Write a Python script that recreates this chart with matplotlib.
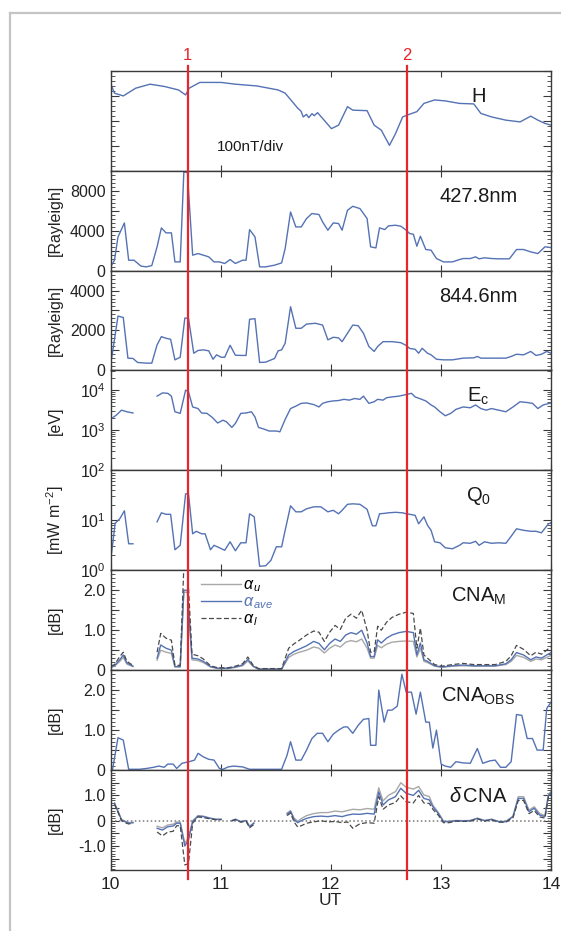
import numpy as np
import matplotlib
matplotlib.use("Agg")
import matplotlib.pyplot as plt
from matplotlib.lines import Line2D
import matplotlib.transforms as mtransforms
from matplotlib.ticker import MultipleLocator, LogLocator, NullFormatter

plt.rcParams['font.family'] = ['Liberation Sans', 'DejaVu Sans']
plt.rcParams['mathtext.fontset'] = 'custom'
plt.rcParams['mathtext.rm'] = 'Liberation Sans'
plt.rcParams['mathtext.it'] = 'Liberation Sans:italic'
plt.rcParams['mathtext.bf'] = 'Liberation Sans:bold'

nan = np.nan

# ---- H (nT, relative) ----
h_ut = [10.0, 10.036, 10.116, 10.229, 10.359, 10.488, 10.617, 10.682, 10.714, 10.811,
        11.005, 11.134, 11.328, 11.522, 11.586, 11.651, 11.70, 11.73, 11.75, 11.78,
        11.80, 11.83, 11.85, 11.88, 11.926, 12.006, 12.071, 12.152, 12.2, 12.33,
        12.394, 12.459, 12.533, 12.588, 12.653, 12.717, 12.782, 12.846, 12.943, 13.04,
        13.17, 13.299, 13.363, 13.46, 13.59, 13.719, 13.816, 13.881, 13.945, 14.0]
h_val = [350, 310, 299, 330, 346, 337, 323, 303, 330, 353,
         353, 346, 339, 323, 310, 276, 250, 238, 215, 225,
         212, 228, 220, 232, 209, 168, 182, 256, 242, 240,
         182, 162, 101, 148, 215, 226, 236, 269, 283, 279,
         269, 267, 229, 215, 202, 195, 218, 202, 189, 182]

# ---- 427.8 nm ----
b_ut = [10.01, 10.036, 10.068, 10.126, 10.165, 10.213, 10.278, 10.326, 10.375, 10.423,
        10.462, 10.504, 10.553, 10.585, 10.633, 10.666, 10.698, 10.746, 10.795, 10.843,
        10.892, 10.94, 10.989, 11.037, 11.086, 11.134, 11.199, 11.231, 11.263, 11.312,
        11.354, 11.409, 11.49, 11.554, 11.586, 11.635, 11.683, 11.732, 11.78, 11.829,
        11.893, 11.926, 11.974, 12.023, 12.071, 12.103, 12.152, 12.2, 12.265, 12.33,
        12.362, 12.41, 12.443, 12.491, 12.523, 12.588, 12.636, 12.685, 12.717, 12.75,
        12.782, 12.814, 12.863, 12.911, 12.96, 13.024, 13.105, 13.17, 13.202, 13.267,
        13.315, 13.347, 13.396, 13.46, 13.525, 13.622, 13.687, 13.751, 13.816, 13.881,
        13.945, 14.0]
b_val = [540, 1040, 3390, 4800, 1040, 1040, 440, 370, 500, 2390,
         4300, 3800, 3800, 870, 870, 9950, 9900, 1550, 1710, 1550,
         1380, 870, 870, 710, 1110, 710, 1040, 1040, 4130, 3390,
         370, 370, 540, 770, 2220, 5910, 4400, 4400, 5240, 5750,
         5650, 4900, 4070, 4800, 4740, 4070, 6080, 6480, 6250, 5240,
         2390, 2280, 4300, 4130, 4500, 4570, 4470, 4070, 3730, 3660,
         2450, 3460, 2120, 2050, 1210, 870, 870, 1110, 1210, 1210,
         1380, 1180, 1280, 1210, 1180, 1180, 2120, 2120, 1880, 1710,
         2390, 2320]

# ---- 844.6 nm ----
r_ut = [10.01, 10.068, 10.116, 10.158, 10.204, 10.246, 10.326, 10.375, 10.423, 10.462,
        10.504, 10.546, 10.585, 10.633, 10.675, 10.708, 10.756, 10.795, 10.843, 10.892,
        10.931, 10.963, 11.005, 11.037, 11.086, 11.134, 11.199, 11.231, 11.263, 11.312,
        11.354, 11.409, 11.49, 11.522, 11.554, 11.586, 11.635, 11.683, 11.732, 11.78,
        11.861, 11.926, 11.974, 12.023, 12.071, 12.103, 12.152, 12.2, 12.249, 12.297,
        12.346, 12.394, 12.426, 12.475, 12.556, 12.636, 12.685, 12.717, 12.766, 12.798,
        12.83, 12.879, 12.911, 12.96, 13.024, 13.105, 13.202, 13.299, 13.331, 13.363,
        13.46, 13.59, 13.638, 13.687, 13.751, 13.816, 13.864, 13.913, 13.961, 14.0]
r_val = [600, 2720, 2650, 615, 600, 400, 365, 365, 1280, 1690,
         1610, 1560, 530, 660, 2620, 2620, 860, 1000, 1030, 980,
         560, 780, 660, 660, 1260, 760, 750, 750, 2560, 2590,
         400, 415, 600, 980, 1030, 1360, 3190, 2110, 2110, 2320,
         2360, 2270, 1530, 1660, 1630, 1440, 1860, 2270, 2240, 1860,
         1200, 950, 1200, 1440, 1440, 1390, 1250, 1100, 1060, 860,
         1110, 860, 780, 560, 530, 530, 615, 630, 700, 615,
         615, 615, 700, 810, 780, 950, 750, 810, 950, 860]

# ---- Ec (eV) ----
ec_ut = [10.01, 10.052, 10.1, 10.149, 10.204, 10.3, 10.423, 10.472, 10.52, 10.553,
         10.585, 10.633, 10.682, 10.708, 10.746, 10.795, 10.827, 10.876, 10.924, 10.973,
         11.021, 11.053, 11.102, 11.134, 11.183, 11.231, 11.28, 11.312, 11.344, 11.392,
         11.441, 11.506, 11.538, 11.586, 11.635, 11.683, 11.732, 11.78, 11.845, 11.893,
         11.926, 11.974, 12.023, 12.071, 12.12, 12.168, 12.217, 12.265, 12.297, 12.346,
         12.394, 12.426, 12.475, 12.507, 12.556, 12.62, 12.685, 12.733, 12.766, 12.807,
         12.863, 12.911, 12.943, 12.992, 13.04, 13.089, 13.137, 13.202, 13.267, 13.315,
         13.363, 13.412, 13.46, 13.525, 13.59, 13.655, 13.719, 13.784, 13.832, 13.881,
         13.929, 14.0]
ec_log = [3.29, 3.375, 3.5, 3.46, 3.43, nan, 3.85, 3.93, 3.92, 3.85,
          3.46, 3.42, 4.0, 3.96, 3.58, 3.54, 3.43, 3.42, 3.32, 3.18,
          3.25, 3.21, 3.07, 3.17, 3.42, 3.43, 3.46, 3.33, 3.07, 3.03,
          2.98, 2.98, 2.96, 3.27, 3.54, 3.6, 3.67, 3.68, 3.64, 3.58,
          3.67, 3.71, 3.73, 3.74, 3.77, 3.75, 3.79, 3.77, 3.85, 3.67,
          3.71, 3.77, 3.75, 3.81, 3.83, 3.85, 3.89, 3.92, 3.83, 3.79,
          3.73, 3.63, 3.58, 3.46, 3.36, 3.42, 3.52, 3.58, 3.56, 3.63,
          3.54, 3.5, 3.54, 3.5, 3.46, 3.58, 3.71, 3.69, 3.67, 3.54,
          3.63, 3.68]

# ---- Q0 (mW m-2) ----
q_ut = [10.01, 10.042, 10.084, 10.126, 10.165, 10.204, 10.3, 10.423, 10.462, 10.504,
        10.546, 10.585, 10.633, 10.682, 10.708, 10.746, 10.778, 10.827, 10.859, 10.908,
        10.94, 10.989, 11.037, 11.086, 11.134, 11.183, 11.231, 11.263, 11.305, 11.354,
        11.409, 11.457, 11.506, 11.554, 11.586, 11.635, 11.683, 11.732, 11.78, 11.845,
        11.91, 11.974, 12.023, 12.071, 12.103, 12.152, 12.2, 12.265, 12.33, 12.378,
        12.41, 12.443, 12.491, 12.523, 12.588, 12.653, 12.685, 12.717, 12.766, 12.798,
        12.846, 12.879, 12.911, 12.943, 12.992, 13.04, 13.105, 13.17, 13.202, 13.267,
        13.315, 13.347, 13.396, 13.46, 13.525, 13.59, 13.638, 13.687, 13.751, 13.816,
        13.864, 13.913, 13.977, 14.0]
q_log = [0.35, 0.94, 1.03, 1.19, 0.53, 0.53, nan, 0.97, 1.15, 1.12,
         1.12, 0.41, 0.5, 1.53, 1.53, 0.73, 0.78, 0.73, 0.73, 0.41,
         0.5, 0.45, 0.4, 0.57, 0.39, 0.55, 0.55, 1.13, 1.07, 0.08,
         0.09, 0.2, 0.47, 0.47, 0.8, 1.29, 1.17, 1.17, 1.23, 1.27,
         1.27, 1.17, 1.2, 1.13, 1.2, 1.32, 1.33, 1.32, 1.22, 0.89,
         0.89, 1.13, 1.14, 1.15, 1.16, 1.15, 1.13, 1.12, 1.1, 0.93,
         1.07, 0.9, 0.8, 0.57, 0.55, 0.45, 0.43, 0.5, 0.55, 0.54,
         0.58, 0.5, 0.57, 0.54, 0.55, 0.54, 0.68, 0.83, 0.8, 0.78,
         0.78, 0.75, 0.93, 0.95]

# ---- CNA_M (dB): alpha_u, alpha_ave, alpha_l ----
m_ut = [10.003, 10.036, 10.084, 10.116, 10.149, 10.204, 10.3, 10.423, 10.456, 10.504,
        10.553, 10.585, 10.633, 10.666, 10.698, 10.74, 10.795, 10.843, 10.908, 10.973,
        11.069, 11.134, 11.199, 11.247, 11.296, 11.344, 11.457, 11.554, 11.618, 11.667,
        11.716, 11.78, 11.845, 11.893, 11.942, 11.99, 12.039, 12.087, 12.136, 12.184,
        12.233, 12.281, 12.33, 12.362, 12.394, 12.426, 12.459, 12.507, 12.556, 12.62,
        12.685, 12.75, 12.782, 12.814, 12.846, 12.879, 12.943, 13.008, 13.105, 13.202,
        13.299, 13.396, 13.493, 13.59, 13.638, 13.687, 13.751, 13.816, 13.864, 13.913,
        13.961, 14.0]
m_ave = [0.08, 0.11, 0.26, 0.38, 0.18, 0.1, nan, 0.3, 0.63, 0.55,
         0.5, 0.09, 0.09, 2.0, 2.0, 0.3, 0.28, 0.22, 0.09, 0.05,
         0.05, 0.08, 0.13, 0.27, 0.1, 0.03, 0.03, 0.03, 0.38, 0.47,
         0.53, 0.61, 0.72, 0.67, 0.51, 0.67, 0.78, 0.72, 0.88, 0.94,
         0.9, 1.0, 0.68, 0.34, 0.34, 0.76, 0.68, 0.8, 0.88, 0.94,
         0.97, 0.94, 0.38, 0.68, 0.26, 0.22, 0.11, 0.08, 0.11, 0.13,
         0.11, 0.11, 0.11, 0.16, 0.26, 0.44, 0.38, 0.26, 0.33, 0.3,
         0.38, 0.44]
m_u = [0.07, 0.1, 0.22, 0.32, 0.15, 0.09, nan, 0.25, 0.5, 0.45,
       0.42, 0.08, 0.08, 1.95, 1.95, 0.26, 0.24, 0.19, 0.08, 0.04,
       0.04, 0.07, 0.11, 0.23, 0.09, 0.02, 0.02, 0.02, 0.32, 0.4,
       0.45, 0.5, 0.58, 0.55, 0.43, 0.55, 0.63, 0.58, 0.7, 0.74,
       0.71, 0.78, 0.55, 0.3, 0.3, 0.62, 0.56, 0.65, 0.7, 0.72,
       0.73, 0.72, 0.33, 0.55, 0.22, 0.19, 0.1, 0.07, 0.1, 0.11,
       0.1, 0.1, 0.1, 0.14, 0.22, 0.37, 0.32, 0.22, 0.28, 0.26,
       0.32, 0.37]
m_l = [0.1, 0.14, 0.34, 0.45, 0.22, 0.12, nan, 0.45, 0.92, 0.8,
       0.75, 0.12, 0.12, 2.6, 2.6, 0.4, 0.36, 0.28, 0.11, 0.06,
       0.06, 0.1, 0.16, 0.33, 0.12, 0.04, 0.04, 0.04, 0.55, 0.66,
       0.75, 0.88, 0.98, 0.95, 0.72, 0.95, 1.12, 1.02, 1.3, 1.4,
       1.3, 1.5, 1.0, 0.45, 0.45, 1.1, 1.0, 1.2, 1.32, 1.4,
       1.45, 1.42, 0.55, 1.05, 0.38, 0.3, 0.14, 0.1, 0.14, 0.17,
       0.14, 0.14, 0.14, 0.22, 0.36, 0.62, 0.52, 0.36, 0.45, 0.4,
       0.5, 0.6]

# ---- CNA_OBS (dB) ----
o_ut = [10.019, 10.068, 10.116, 10.165, 10.262, 10.326, 10.391, 10.439, 10.488, 10.52,
        10.569, 10.601, 10.649, 10.714, 10.763, 10.795, 10.843, 10.892, 10.94, 10.989,
        11.021, 11.069, 11.118, 11.199, 11.263, 11.328, 11.554, 11.603, 11.635, 11.683,
        11.732, 11.78, 11.829, 11.877, 11.926, 11.974, 12.023, 12.071, 12.12, 12.152,
        12.2, 12.249, 12.297, 12.346, 12.362, 12.41, 12.436, 12.485, 12.517, 12.556,
        12.604, 12.646, 12.685, 12.733, 12.775, 12.814, 12.863, 12.895, 12.927, 12.96,
        13.002, 13.04, 13.089, 13.137, 13.202, 13.267, 13.331, 13.38, 13.444, 13.493,
        13.541, 13.59, 13.638, 13.687, 13.735, 13.784, 13.832, 13.874, 13.929, 13.961,
        14.0]
o_val = [0.02, 0.81, 0.75, 0.02, 0.02, 0.04, 0.07, 0.1, 0.07, 0.15,
         0.15, 0.04, 0.17, 0.21, 0.25, 0.42, 0.33, 0.27, 0.25, 0.04,
         0.02, 0.08, 0.1, 0.08, 0.02, 0.02, 0.02, 0.37, 0.71, 0.25,
         0.25, 0.5, 0.79, 0.92, 0.92, 0.71, 0.9, 1.0, 1.08, 1.08,
         0.92, 1.12, 1.27, 1.29, 0.62, 0.62, 2.0, 1.2, 1.5, 1.5,
         1.6, 2.4, 1.95, 1.95, 1.4, 1.95, 1.2, 1.2, 0.55, 1.0,
         0.15, 0.1, 0.07, 0.21, 0.18, 0.17, 0.54, 0.17, 0.23, 0.25,
         0.07, 0.07, 0.21, 1.39, 1.37, 0.79, 0.79, 0.5, 0.5, 1.54,
         1.7]

# ---- delta CNA (dB) ----
d_ut = [10.036, 10.068, 10.1, 10.132, 10.165, 10.204, 10.3, 10.423, 10.472, 10.52,
        10.569, 10.601, 10.633, 10.675, 10.708, 10.746, 10.795, 10.843, 10.908, 10.956,
        11.005, 11.05, 11.102, 11.134, 11.183, 11.231, 11.263, 11.302, 11.45, 11.603,
        11.635, 11.667, 11.7, 11.732, 11.78, 11.845, 11.91, 11.974, 12.039, 12.103,
        12.152, 12.2, 12.265, 12.33, 12.394, 12.436, 12.475, 12.523, 12.588, 12.636,
        12.685, 12.75, 12.798, 12.846, 12.895, 12.927, 12.976, 13.024, 13.073, 13.137,
        13.202, 13.267, 13.331, 13.396, 13.46, 13.525, 13.59, 13.655, 13.703, 13.751,
        13.8, 13.848, 13.897, 13.945, 13.977, 14.0]
d_ave = [0.68, 0.36, 0.03, -0.04, -0.1, -0.08, nan, -0.3, -0.37, -0.24,
         -0.21, -0.1, -0.1, -1.0, -0.76, -0.04, 0.18, 0.16, 0.09, 0.05,
         0.05, nan, 0.0, 0.05, -0.04, 0.0, -0.24, -0.1, nan, 0.26,
         0.36, 0.05, -0.08, 0.0, 0.09, 0.16, 0.18, 0.16, 0.2, 0.16,
         0.22, 0.26, 0.25, 0.29, 0.26, 1.14, 0.62, 0.82, 0.95, 1.28,
         1.08, 1.0, 1.2, 0.88, 0.82, 0.55, 0.29, -0.04, -0.04, 0.0,
         -0.01, 0.0, 0.09, 0.0, 0.05, -0.04, -0.04, 0.16, 0.88, 0.88,
         0.36, 0.49, 0.22, 0.16, 1.0, 1.1]
d_u = [0.7, 0.38, 0.05, -0.02, -0.08, -0.06, nan, -0.22, -0.28, -0.17,
       -0.14, -0.05, -0.05, -0.9, -0.65, 0.0, 0.2, 0.18, 0.1, 0.06,
       0.06, nan, 0.01, 0.06, -0.03, 0.01, -0.22, -0.08, nan, 0.3,
       0.4, 0.1, -0.02, 0.08, 0.2, 0.28, 0.32, 0.32, 0.38, 0.35,
       0.4, 0.45, 0.43, 0.48, 0.45, 1.3, 0.78, 1.0, 1.15, 1.5,
       1.32, 1.25, 1.35, 1.02, 0.95, 0.62, 0.33, -0.02, -0.02, 0.01,
       0.0, 0.01, 0.1, 0.01, 0.06, -0.03, -0.03, 0.18, 0.95, 0.95,
       0.42, 0.55, 0.28, 0.2, 1.05, 1.15]
d_l = [0.65, 0.33, 0.0, -0.08, -0.13, -0.1, nan, -0.45, -0.6, -0.45,
       -0.42, -0.2, -0.2, -1.75, -1.7, -0.1, 0.15, 0.12, 0.07, 0.04,
       0.04, nan, -0.01, 0.04, -0.06, -0.02, -0.28, -0.15, nan, 0.2,
       0.3, -0.05, -0.25, -0.2, -0.1, -0.05, 0.0, -0.05, -0.03, -0.08,
       -0.05, -0.3, -0.12, -0.08, -0.1, 0.95, 0.45, 0.62, 0.72, 0.98,
       0.75, 0.7, 1.0, 0.7, 0.68, 0.45, 0.22, -0.08, -0.08, -0.02,
       -0.03, -0.02, 0.07, -0.02, 0.03, -0.06, -0.06, 0.12, 0.8, 0.8,
       0.28, 0.4, 0.15, 0.1, 0.95, 1.05]

ut_ticks = [10, 11, 12, 13, 14]
events_ut = [10.70, 12.69]
events_lab = ['1', '2']

panel_names = ['H', '427.8nm', '844.6nm', r'E$_\mathrm{c}$', r'Q$_\mathrm{0}$',
               r'CNA$_\mathrm{M}$', r'CNA$_\mathrm{OBS}$', r'$\delta\,$CNA']
y_labels = ['', '[Rayleigh]', '[Rayleigh]', '[eV]', r'[mW m$^{\mathrm{-2}}$]',
            '[dB]', '[dB]', '[dB]']

BLUE = '#5472b4'
GRAY = '#a8a8a8'
DARK = '#4a4a4a'
RED = '#e8242c'
SPINE = '#3a3a3a'

W, H = 561, 931
fig = plt.figure(figsize=(W / 100, H / 100), dpi=100)

left, right = 110.5 / W, 551.0 / W
top_px, bot_px = 70.7, 870.0
ph = (bot_px - top_px) / 8.0
axes = []
for i in range(8):
    y0 = 1 - (top_px + (i + 1) * ph) / H
    ax = fig.add_axes([left, y0, right - left, ph / H])
    axes.append(ax)

for i, ax in enumerate(axes):
    ax.set_xlim(10, 14)
    ax.set_xticks(ut_ticks)
    ax.tick_params(axis='both', which='both', direction='in', top=True, right=True,
                   colors=SPINE, labelcolor='#222222', labelsize=11.5)
    ax.tick_params(axis='y', which='major', length=6, width=0.8)
    ax.tick_params(axis='y', which='minor', length=3, width=0.6)
    ax.tick_params(axis='x', which='major', length=4, width=0.8, pad=4)
    for s in ax.spines.values():
        s.set_color(SPINE)
        s.set_linewidth(1.0)
    if i < 7:
        ax.set_xticklabels([])
    ax.text(0.835, 0.74, panel_names[i], transform=ax.transAxes, ha='center',
            va='center', fontsize=14.5, color='#1a1a1a')
    if y_labels[i]:
        fig.text(55 / W, 1 - (top_px + (i + 0.5) * ph) / H, y_labels[i], rotation=90,
                 ha='center', va='center', fontsize=11.5, color='#222222')

# H
ax = axes[0]
ax.plot(h_ut, h_val, color=BLUE, lw=1.0)
ax.set_ylim(0, 400)
ax.yaxis.set_major_locator(MultipleLocator(100))
ax.yaxis.set_minor_locator(MultipleLocator(20))
ax.set_yticklabels([])
ax.text(0.317, 0.24, '100nT/div', transform=ax.transAxes, ha='center', va='center',
        fontsize=11, color='#1a1a1a')

# 427.8
ax = axes[1]
ax.plot(b_ut, b_val, color=BLUE, lw=1.0)
ax.set_ylim(0, 10080)
ax.set_yticks([0, 2000, 4000, 6000, 8000, 10000])
ax.set_yticklabels(['0', '', '4000', '', '8000', ''])
ax.yaxis.set_minor_locator(MultipleLocator(400))

# 844.6
ax = axes[2]
ax.plot(r_ut, r_val, color=BLUE, lw=1.0)
ax.set_ylim(0, 5000)
ax.set_yticks([0, 1000, 2000, 3000, 4000, 5000])
ax.set_yticklabels(['0', '', '2000', '', '4000', ''])
ax.yaxis.set_minor_locator(MultipleLocator(200))

# Ec
ax = axes[3]
ax.plot(ec_ut, np.power(10.0, ec_log), color=BLUE, lw=1.0)
ax.set_yscale('log')
ax.set_ylim(100, 10 ** 4.49)
ax.set_yticks([100, 1000, 10000])
ax.set_yticklabels(['', r'10$^{\mathrm{3}}$', r'10$^{\mathrm{4}}$'])
ax.yaxis.set_minor_locator(LogLocator(base=10, subs=np.arange(2, 10)))
ax.yaxis.set_minor_formatter(NullFormatter())

# Q0
ax = axes[4]
ax.plot(q_ut, np.power(10.0, q_log), color=BLUE, lw=1.0)
ax.set_yscale('log')
ax.set_ylim(1, 100)
ax.set_yticks([1, 10, 100])
ax.set_yticklabels([r'10$^{\mathrm{0}}$', r'10$^{\mathrm{1}}$', r'10$^{\mathrm{2}}$'])
ax.yaxis.set_minor_locator(LogLocator(base=10, subs=np.arange(2, 10)))
ax.yaxis.set_minor_formatter(NullFormatter())

# CNA_M
ax = axes[5]
ax.plot(m_ut, m_u, color=GRAY, lw=1.0)
ax.plot(m_ut, m_ave, color=BLUE, lw=1.0)
ax.plot(m_ut, m_l, color=DARK, lw=0.9, ls=(0, (4, 2)))
ax.set_ylim(0, 2.5)
ax.set_yticks([0, 0.5, 1.0, 1.5, 2.0, 2.5])
ax.set_yticklabels(['0', '', '1.0', '', '2.0', ''])
ax.yaxis.set_minor_locator(MultipleLocator(0.1))
handles = [Line2D([], [], color=GRAY, lw=1.0),
           Line2D([], [], color=BLUE, lw=1.0),
           Line2D([], [], color=DARK, lw=0.9, ls=(0, (4, 2)))]
leg = ax.legend(handles, [r'$\alpha_{\,u}$', r'$\alpha_{\,ave}$', r'$\alpha_{\,l}$'],
                loc='upper left', bbox_to_anchor=(0.205, 0.93), frameon=False,
                fontsize=11.5, handlelength=2.5, handletextpad=0.15, labelspacing=0.02,
                borderpad=0, borderaxespad=0)
leg.get_texts()[1].set_color(BLUE)

# CNA_OBS
ax = axes[6]
ax.plot(o_ut, o_val, color=BLUE, lw=1.0)
ax.set_ylim(0, 2.5)
ax.set_yticks([0, 0.5, 1.0, 1.5, 2.0, 2.5])
ax.set_yticklabels(['0', '', '1.0', '', '2.0', ''])
ax.yaxis.set_minor_locator(MultipleLocator(0.1))

# delta CNA
ax = axes[7]
ax.axhline(0, color='#777777', lw=1.1, ls=(0, (1, 1.6)))
ax.plot(d_ut, d_u, color=GRAY, lw=1.0)
ax.plot(d_ut, d_ave, color=BLUE, lw=1.0)
ax.plot(d_ut, d_l, color=DARK, lw=0.9, ls=(0, (4, 2)))
ax.set_ylim(-1.95, 2.0)
ax.set_yticks([-1.5, -1.0, -0.5, 0, 0.5, 1.0, 1.5])
ax.set_yticklabels(['', '-1.0', '', '0', '', '1.0', ''])
ax.yaxis.set_minor_locator(MultipleLocator(0.1))
ax.set_xticklabels([str(t) for t in ut_ticks])
ax.tick_params(axis='x', labelsize=12.5, pad=5)
ax.set_xlabel('UT', fontsize=12.5, labelpad=1, color='#222222')

# event lines spanning all panels
blend = mtransforms.blended_transform_factory(axes[-1].transData, fig.transFigure)
for ut, lab in zip(events_ut, events_lab):
    fig.add_artist(Line2D([ut, ut], [1 - 66 / H, 1 - 879 / H], transform=blend,
                          color=RED, lw=1.6, zorder=10))
    fig.text(ut, 1 - 55 / H, lab, transform=blend, ha='center', va='center',
             color=RED, fontsize=12)

# light frame around the figure
fig.add_artist(Line2D([10 / W, 1.0], [1 - 12.7 / H, 1 - 12.7 / H],
                      transform=fig.transFigure, color='#c4c4c4', lw=1.6))
fig.add_artist(Line2D([10 / W, 10 / W], [0.0, 1 - 12.7 / H],
                      transform=fig.transFigure, color='#c4c4c4', lw=1.6))

fig.savefig('out.png', dpi=100)
